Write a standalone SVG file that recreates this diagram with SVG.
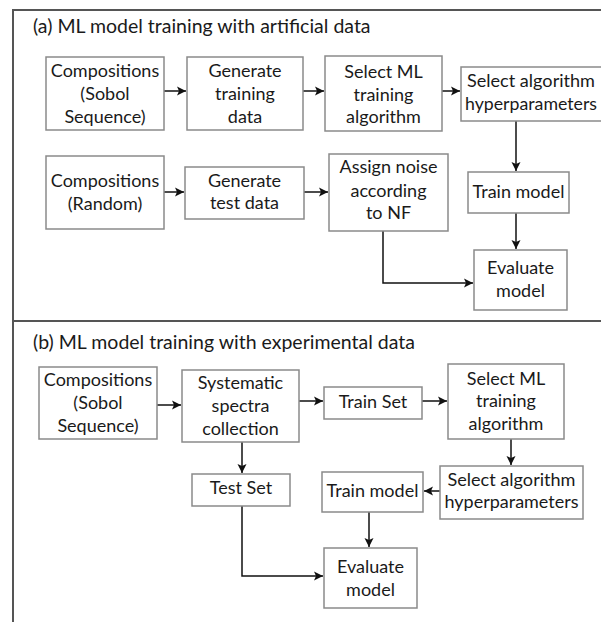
<svg xmlns="http://www.w3.org/2000/svg" width="601" height="622" viewBox="0 0 601 622">
<defs>
<style>
.box{fill:#fff;stroke:#8a8a8a;stroke-width:1.5}
.t{font-family:Lato,"Liberation Sans",sans-serif;font-size:18px;fill:#1a1a1a;text-anchor:middle}
.title{font-family:Lato,"Liberation Sans",sans-serif;font-size:19.5px;fill:#1a1a1a}
.c{fill:none;stroke:#111;stroke-width:1.5}
.frame{fill:none;stroke:#555;stroke-width:2}
</style>
<marker id="ah" markerWidth="10" markerHeight="10" refX="9" refY="5" orient="auto" markerUnits="userSpaceOnUse">
<path d="M0,0.5 L9,5 L0,9.5 L2,5 Z" fill="#111"/>
</marker>
</defs>
<rect width="601" height="622" fill="#fff"/>
<g id="frame">
<path class="frame" d="M601,10 H13 V622"/>
<path class="frame" d="M13,321 H601"/>
</g>
<text class="title" x="33" y="33">(a) ML model training with artificial data</text>
<text class="title" x="33" y="349">(b) ML model training with experimental data</text>
<g id="connectors">
<path class="c" marker-end="url(#ah)" d="M164,91 H186"/>
<path class="c" marker-end="url(#ah)" d="M303,91 H324"/>
<path class="c" marker-end="url(#ah)" d="M442,91 H460"/>
<path class="c" marker-end="url(#ah)" d="M516,121 V171"/>
<path class="c" marker-end="url(#ah)" d="M516,213 V249"/>
<path class="c" marker-end="url(#ah)" d="M164,192 H184"/>
<path class="c" marker-end="url(#ah)" d="M304,192 H328"/>
<path class="c" marker-end="url(#ah)" d="M383,231 V283 H473"/>
<path class="c" marker-end="url(#ah)" d="M157,405 H181"/>
<path class="c" marker-end="url(#ah)" d="M299,401 H323"/>
<path class="c" marker-end="url(#ah)" d="M422,401 H447"/>
<path class="c" marker-end="url(#ah)" d="M511,439 V465"/>
<path class="c" marker-end="url(#ah)" d="M440,491 H424"/>
<path class="c" marker-end="url(#ah)" d="M369,512 V547"/>
<path class="c" marker-end="url(#ah)" d="M242,442 V473"/>
<path class="c" marker-end="url(#ah)" d="M242,506 V576 H323"/>
</g>
<g id="a-comp-sobol"><rect class="box" x="46" y="57" width="118" height="73"/><text class="t" x="105" y="77">Compositions</text><text class="t" x="105" y="100">(Sobol</text><text class="t" x="105" y="123">Sequence)</text></g>
<g id="a-gen-train"><rect class="box" x="187" y="57" width="116" height="73"/><text class="t" x="245" y="77">Generate</text><text class="t" x="245" y="100">training</text><text class="t" x="245" y="123">data</text></g>
<g id="a-select-ml"><rect class="box" x="325" y="56" width="117" height="75"/><text class="t" x="383.5" y="78">Select ML</text><text class="t" x="383.5" y="101">training</text><text class="t" x="383.5" y="123">algorithm</text></g>
<g id="a-hyper"><rect class="box" x="461" y="67" width="142" height="54"/><text class="t" x="531" y="87" textLength="128" lengthAdjust="spacingAndGlyphs">Select algorithm</text><text class="t" x="531" y="110" textLength="132" lengthAdjust="spacingAndGlyphs">hyperparameters</text></g>
<g id="a-train"><rect class="box" x="468" y="172" width="101" height="41"/><text class="t" x="518.5" y="198">Train model</text></g>
<g id="a-eval"><rect class="box" x="474" y="250" width="93" height="60"/><text class="t" x="520.5" y="274">Evaluate</text><text class="t" x="520.5" y="297">model</text></g>
<g id="a-comp-random"><rect class="box" x="46" y="156" width="118" height="73"/><text class="t" x="105" y="187">Compositions</text><text class="t" x="105" y="210">(Random)</text></g>
<g id="a-gen-test"><rect class="box" x="185" y="167" width="119" height="52"/><text class="t" x="244.5" y="187">Generate</text><text class="t" x="244.5" y="209">test data</text></g>
<g id="a-noise"><rect class="box" x="329" y="154" width="119" height="77"/><text class="t" x="388.5" y="173">Assign noise</text><text class="t" x="388.5" y="197">according</text><text class="t" x="388.5" y="219">to NF</text></g>
<g id="b-comp-sobol"><rect class="box" x="39" y="367" width="118" height="72"/><text class="t" x="98" y="386">Compositions</text><text class="t" x="98" y="409">(Sobol</text><text class="t" x="98" y="432">Sequence)</text></g>
<g id="b-spectra"><rect class="box" x="182" y="370" width="117" height="72"/><text class="t" x="240.5" y="389">Systematic</text><text class="t" x="240.5" y="412">spectra</text><text class="t" x="240.5" y="435">collection</text></g>
<g id="b-trainset"><rect class="box" x="324" y="387" width="98" height="32"/><text class="t" x="373" y="408">Train Set</text></g>
<g id="b-select-ml"><rect class="box" x="448" y="364" width="116" height="75"/><text class="t" x="506" y="385">Select ML</text><text class="t" x="506" y="407">training</text><text class="t" x="506" y="430">algorithm</text></g>
<g id="b-hyper"><rect class="box" x="440" y="466" width="143" height="53"/><text class="t" x="511.5" y="486" textLength="128" lengthAdjust="spacingAndGlyphs">Select algorithm</text><text class="t" x="511.5" y="508" textLength="134" lengthAdjust="spacingAndGlyphs">hyperparameters</text></g>
<g id="b-train"><rect class="box" x="322" y="472" width="101" height="40"/><text class="t" x="372.5" y="497">Train model</text></g>
<g id="b-eval"><rect class="box" x="324" y="548" width="93" height="60"/><text class="t" x="370.5" y="573">Evaluate</text><text class="t" x="370.5" y="596">model</text></g>
<g id="b-testset"><rect class="box" x="192" y="474" width="98" height="32"/><text class="t" x="241" y="494">Test Set</text></g>
</svg>
